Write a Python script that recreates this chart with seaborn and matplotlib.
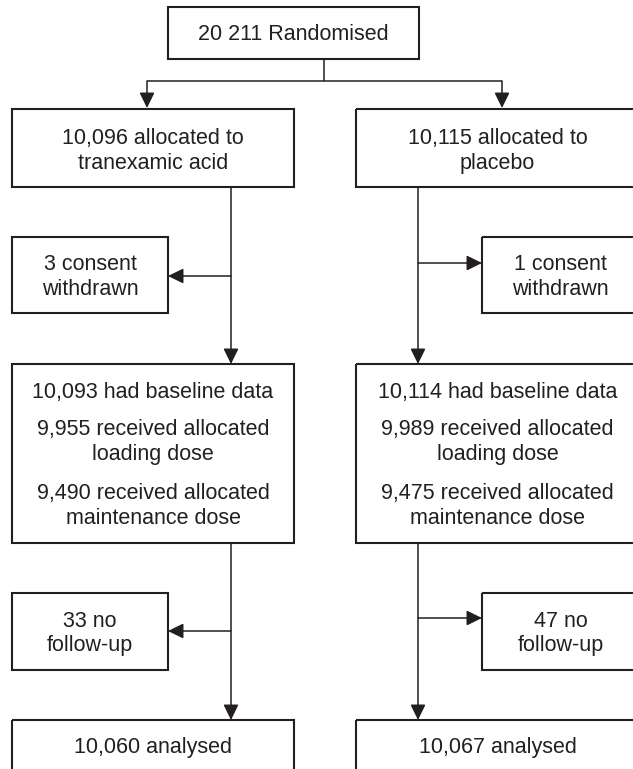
import matplotlib
matplotlib.use('Agg')
import matplotlib.pyplot as plt
from matplotlib.patches import Rectangle
import seaborn as sns

# trial flow numbers
randomised_label = "20 211 Randomised"
groups = ["tranexamic acid", "placebo"]
allocated = [10096, 10115]
consent_withdrawn = [3, 1]
baseline = [10093, 10114]
loading_dose = [9955, 9989]
maintenance_dose = [9490, 9475]
no_followup = [33, 47]
analysed = [10060, 10067]

sns.set_theme(style='white')
plt.rcParams['font.family'] = ['Liberation Sans', 'DejaVu Sans']

INK = '#231f20'
FS = 15.5
BOX_LW = 1.5
ARR_LW = 1.1

fig = plt.figure(figsize=(6.33, 7.69), dpi=100)
ax = fig.add_axes([0, 0, 1, 1])
ax.set_xlim(0, 633)
ax.set_ylim(769, 0)
ax.axis('off')


def box(x0, x1, y0, y1):
    ax.add_patch(Rectangle((x0, y0), x1 - x0, y1 - y0, fill=False,
                           lw=BOX_LW, ec=INK, joinstyle='miter'))


def text(x, y, s):
    ax.text(x, y + 1.5, s, ha='center', va='center', fontsize=FS, color=INK)


def line(xs, ys):
    ax.plot(xs, ys, color=INK, lw=ARR_LW, solid_capstyle='butt')


def arrow(start, end):
    ax.annotate('', xy=end, xytext=start,
                arrowprops=dict(arrowstyle='-|>,head_length=0.55,head_width=0.27',
                                mutation_scale=17, lw=ARR_LW, color=INK,
                                shrinkA=0, shrinkB=0))


def fmt(n):
    return f"{n:,}"


# top box
box(168, 419, 7, 59)
text(293.5, 33, randomised_label)
line([324, 324], [59, 81])
line([147, 502], [81, 81])
arrow((147, 81), (147, 108))
arrow((502, 81), (502, 108))

# columns: main box edges, stem x, side box edges, side direction
cols = [
    dict(x0=12, x1=294, stem=231, sx0=12, sx1=168, side=-1),
    dict(x0=356, x1=639, stem=418, sx0=482, sx1=639, side=1),
]
side_arrow_y1 = [276, 263]
side_arrow_y2 = [631, 618]

for i, c in enumerate(cols):
    cx = (c['x0'] + c['x1']) / 2
    scx = (c['sx0'] + c['sx1']) / 2
    # allocation
    box(c['x0'], c['x1'], 109, 187)
    text(cx, 137, f"{fmt(allocated[i])} allocated to")
    text(cx, 162, groups[i])
    arrow((c['stem'], 187), (c['stem'], 364))
    # consent withdrawn
    box(c['sx0'], c['sx1'], 237, 313)
    text(scx, 263, f"{consent_withdrawn[i]} consent")
    text(scx, 288, "withdrawn")
    tip = c['sx1'] if c['side'] < 0 else c['sx0']
    arrow((c['stem'], side_arrow_y1[i]), (tip, side_arrow_y1[i]))
    # baseline / doses
    box(c['x0'], c['x1'], 364, 543)
    text(cx, 391, f"{fmt(baseline[i])} had baseline data")
    text(cx, 428, f"{fmt(loading_dose[i])} received allocated")
    text(cx, 453, "loading dose")
    text(cx, 492, f"{fmt(maintenance_dose[i])} received allocated")
    text(cx, 517, "maintenance dose")
    arrow((c['stem'], 543), (c['stem'], 720))
    # no follow-up
    box(c['sx0'], c['sx1'], 593, 670)
    text(scx, 620, f"{no_followup[i]} no")
    text(scx, 644, "follow-up")
    arrow((c['stem'], side_arrow_y2[i]), (tip, side_arrow_y2[i]))
    # analysed
    box(c['x0'], c['x1'], 720, 800)
    text(cx, 746, f"{fmt(analysed[i])} analysed")

fig.savefig('out.png', dpi=100, facecolor='white')
plt.close(fig)
